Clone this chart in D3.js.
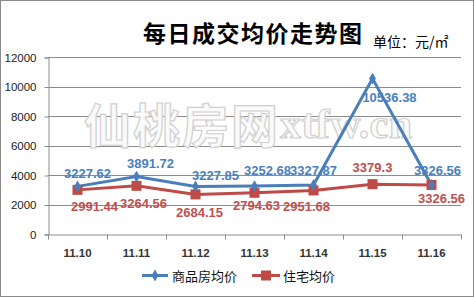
<!DOCTYPE html>
<html>
<head>
<meta charset="utf-8">
<script src="https://cdn.jsdelivr.net/npm/d3@7"></script>
<style>
  body { margin: 0; background: #fff; }
  svg { display: block; }
</style>
</head>
<body>
<script>
// chart data
var days = ["11.10", "11.11", "11.12", "11.13", "11.14", "11.15", "11.16"];
var shangpin = [3227.62, 3891.72, 3227.85, 3252.68, 3327.87, 10536.38, 3326.56];
var zhuzhai = [2991.44, 3264.56, 2684.15, 2794.63, 2951.68, 3379.3, 3326.56];
var yTicks = [0, 2000, 4000, 6000, 8000, 10000, 12000];
var seriesNames = ["商品房均价", "住宅均价"];

// label nudges (as placed in the original)
var blueDx = [10, 14, 20, 13, 0, 17, 6], blueDy = [-8, -9, -6, -11, -10, 23, -10];
var redDx = [17, 7, 4, 2, -7, 0, 10], redDy = [21, 22, 23, 17, 21, -12, 18];

var W = 474, H = 297;
var blue = "#4A7EBB", red = "#BE4B48";

var svg = d3.select("body").append("svg")
  .attr("width", W).attr("height", H)
  .style("font-family", "Arial, 'Liberation Sans', sans-serif");

svg.append("rect")
  .attr("x", 0.5).attr("y", 0.5)
  .attr("width", W - 1).attr("height", H - 1)
  .attr("fill", "#fff").attr("stroke", "#8a8a8a");

var x = d3.scaleBand().domain(days).range([48, 461]);
var y = d3.scaleLinear().domain([0, 12000]).range([234, 57]);

// gridlines
svg.append("g").selectAll("line").data(yTicks.slice(1)).enter().append("line")
  .attr("x1", 48).attr("x2", 461)
  .attr("y1", function(d) { return Math.round(y(d)) + 0.5; })
  .attr("y2", function(d) { return Math.round(y(d)) + 0.5; })
  .attr("stroke", "#8c8c8c");

// watermark
svg.append("text")
  .attr("x", 84).attr("y", 143)
  .attr("font-family", "'Noto Sans CJK SC', sans-serif")
  .attr("font-size", 47).attr("font-weight", "bold")
  .attr("letter-spacing", 2)
  .attr("fill", "#fafafa").attr("stroke", "#cfcfcf").attr("stroke-width", 1.2)
  .text("仙桃房网");
svg.append("text")
  .attr("x", 280).attr("y", 138)
  .attr("font-family", "'Liberation Serif', serif")
  .attr("font-size", 42).attr("font-weight", "bold")
  .attr("fill", "#fafafa").attr("stroke", "#cfcfcf").attr("stroke-width", 1.2)
  .attr("textLength", 132)
  .text("xtfw.cn");

// y axis
var yAxis = svg.append("g")
  .attr("transform", "translate(48.5,0.5)")
  .call(d3.axisLeft(y).tickValues(yTicks).tickSize(4).tickPadding(8).tickFormat(d3.format("d")));
yAxis.select(".domain").attr("stroke", "#8c8c8c");
yAxis.selectAll(".tick line").attr("stroke", "#8c8c8c");
yAxis.selectAll("text").attr("font-size", 11.5).attr("fill", "#222").attr("font-family", "Arial, sans-serif");

// x axis
var xAxis = svg.append("g")
  .attr("transform", "translate(0,234.5)")
  .call(d3.axisBottom(x).tickSize(0).tickPadding(14));
xAxis.select(".domain").attr("stroke", "#8c8c8c");
xAxis.selectAll("text").attr("font-size", 11.5).attr("font-weight", "bold").attr("fill", "#333").attr("font-family", "Arial, sans-serif");
xAxis.selectAll("line.sep").data(d3.range(days.length + 1)).enter().append("line")
  .attr("class", "sep")
  .attr("x1", function(i) { return Math.round(x.range()[0] + i * x.step()) + 0.5; })
  .attr("x2", function(i) { return Math.round(x.range()[0] + i * x.step()) + 0.5; })
  .attr("y1", 0).attr("y2", 5)
  .attr("stroke", "#8c8c8c");

function cx(d, i) { return x(days[i]) + x.bandwidth() / 2; }

var line = d3.line().x(cx).y(function(d) { return y(d); });

svg.append("path").datum(zhuzhai)
  .attr("d", line).attr("fill", "none").attr("stroke", red).attr("stroke-width", 3);
svg.append("path").datum(shangpin)
  .attr("d", line).attr("fill", "none").attr("stroke", blue).attr("stroke-width", 3);

var diamond = d3.symbol().type(d3.symbolDiamond).size(40);

svg.append("g").selectAll("rect").data(zhuzhai).enter().append("rect")
  .attr("x", function(d, i) { return cx(d, i) - 5; })
  .attr("y", function(d) { return y(d) - 5; })
  .attr("width", 10).attr("height", 10)
  .attr("fill", red);
svg.append("g").selectAll("path").data(shangpin).enter().append("path")
  .attr("d", diamond)
  .attr("transform", function(d, i) { return "translate(" + cx(d, i) + "," + y(d) + ")"; })
  .attr("fill", blue);

// data labels
svg.append("g").selectAll("text").data(shangpin).enter().append("text")
  .attr("x", function(d, i) { return cx(d, i) + blueDx[i]; })
  .attr("y", function(d, i) { return y(d) + blueDy[i]; })
  .attr("text-anchor", "middle")
  .attr("font-size", 13).attr("font-weight", "bold")
  .attr("fill", "#4a7fbd")
  .text(function(d) { return d; });
svg.append("g").selectAll("text").data(zhuzhai).enter().append("text")
  .attr("x", function(d, i) { return cx(d, i) + redDx[i]; })
  .attr("y", function(d, i) { return y(d) + redDy[i]; })
  .attr("text-anchor", "middle")
  .attr("font-size", 13).attr("font-weight", "bold")
  .attr("fill", "#c0504d")
  .text(function(d) { return d; });

// titles
svg.append("text")
  .attr("x", 143).attr("y", 42)
  .attr("font-family", "'Noto Sans CJK SC', sans-serif")
  .attr("font-size", 23).attr("font-weight", "bold")
  .attr("fill", "#000")
  .attr("textLength", 219)
  .text("每日成交均价走势图");
svg.append("text")
  .attr("x", 373).attr("y", 47)
  .attr("font-family", "'Noto Sans CJK SC', sans-serif")
  .attr("font-size", 14)
  .attr("fill", "#000")
  .text("单位：元/㎡");

// legend
var legend = svg.append("g").attr("transform", "translate(0,275.5)");
legend.append("line").attr("x1", 142).attr("x2", 168).attr("stroke", blue).attr("stroke-width", 3);
legend.append("path").attr("d", diamond).attr("transform", "translate(155,0)").attr("fill", blue);
legend.append("text").attr("x", 172).attr("y", 5)
  .attr("font-family", "'Noto Sans CJK SC', sans-serif").attr("font-size", 13).attr("fill", "#111")
  .text(seriesNames[0]);
legend.append("line").attr("x1", 252).attr("x2", 280).attr("stroke", red).attr("stroke-width", 3);
legend.append("rect").attr("x", 261).attr("y", -5).attr("width", 10).attr("height", 10).attr("fill", red);
legend.append("text").attr("x", 283).attr("y", 5)
  .attr("font-family", "'Noto Sans CJK SC', sans-serif").attr("font-size", 13).attr("fill", "#111")
  .text(seriesNames[1]);
</script>
</body>
</html>
